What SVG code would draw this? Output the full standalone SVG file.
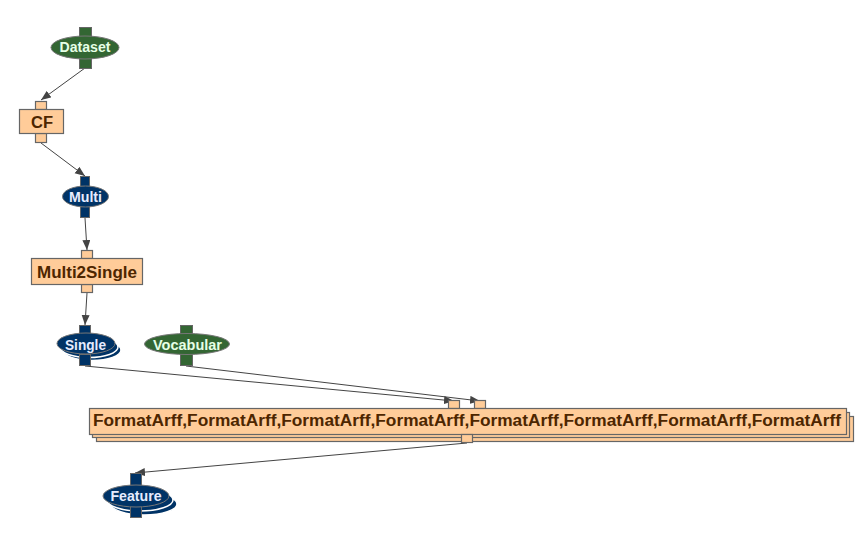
<svg xmlns="http://www.w3.org/2000/svg" width="864" height="543" viewBox="0 0 864 543">
<style>
.edge{stroke:#444;stroke-width:1;fill:none;marker-end:url(#arr)}
.op{fill:#ffcc99;stroke:#666;stroke-width:1.2}
.gp{fill:#336633;stroke:#666;stroke-width:1}
.bp{fill:#003366;stroke:#666;stroke-width:1}
.ge{fill:#336633;stroke:#777;stroke-width:1}
.be{fill:#003366;stroke:#777;stroke-width:1}
.bs{fill:#003366;stroke:#fff;stroke-width:1.5}
.ot{font-family:"Liberation Sans","Arial",sans-serif;font-weight:bold;font-size:16px;fill:#4d2600;text-anchor:middle}
.gt{font-family:"Liberation Sans","Arial",sans-serif;font-weight:bold;font-size:14px;fill:#e6ffe6;text-anchor:middle}
.bt{font-family:"Liberation Sans","Arial",sans-serif;font-weight:bold;font-size:14px;fill:#e6ecff;text-anchor:middle}
</style>
<defs>
<marker id="arr" markerUnits="userSpaceOnUse" markerWidth="11" markerHeight="9" refX="10" refY="4" orient="auto">
<path d="M0,0 L10,4 L0,8 z" fill="#444"/>
</marker>
</defs>
<rect width="864" height="543" fill="#fff"/>
<g id="edges">
<line class="edge" x1="85" y1="68" x2="41" y2="100"/>
<line class="edge" x1="41" y1="143" x2="85" y2="176"/>
<line class="edge" x1="85" y1="218" x2="87" y2="250"/>
<line class="edge" x1="87" y1="293" x2="85" y2="325"/>
<line class="edge" x1="85" y1="366" x2="454" y2="401"/>
<line class="edge" x1="186" y1="366" x2="480" y2="401"/>
<line class="edge" x1="467" y1="443" x2="135" y2="473"/>
</g>
<g id="Dataset">
<rect class="gp" x="79.5" y="27.5" width="12" height="10"/>
<rect class="gp" x="79.5" y="58.5" width="12" height="10"/>
<ellipse class="ge" cx="85" cy="47.5" rx="34" ry="11.5"/>
<text class="gt" x="85" y="52" textLength="51" lengthAdjust="spacingAndGlyphs">Dataset</text>
</g>
<g id="CF">
<rect class="op" x="35.5" y="101.5" width="11" height="8"/>
<rect class="op" x="35.5" y="133.5" width="11" height="9"/>
<rect class="op" x="19.5" y="109.5" width="44" height="24"/>
<text class="ot" x="42" y="128" textLength="22" lengthAdjust="spacingAndGlyphs">CF</text>
</g>
<g id="Multi">
<rect class="bp" x="80.5" y="176.5" width="9" height="10"/>
<rect class="bp" x="80.5" y="206.5" width="9" height="11"/>
<ellipse class="be" cx="85.5" cy="196.5" rx="23" ry="10.5"/>
<text class="bt" x="85.5" y="201.5" textLength="33" lengthAdjust="spacingAndGlyphs">Multi</text>
</g>
<g id="Multi2Single">
<rect class="op" x="81.5" y="250.5" width="11" height="8"/>
<rect class="op" x="81.5" y="284.5" width="11" height="8"/>
<rect class="op" x="31.5" y="258.5" width="111" height="26"/>
<text class="ot" x="87" y="277.5" textLength="100" lengthAdjust="spacingAndGlyphs">Multi2Single</text>
</g>
<g id="Single">
<ellipse class="bs" cx="92" cy="350" rx="29" ry="10.5"/>
<ellipse class="bs" cx="89" cy="347" rx="29" ry="10.5"/>
<rect class="bp" x="79.5" y="325.5" width="11" height="9"/>
<rect class="bp" x="79.5" y="354.5" width="11" height="11"/>
<ellipse class="be" cx="86" cy="343.5" rx="29" ry="10.5"/>
<text class="bt" x="85.5" y="349.5" textLength="41" lengthAdjust="spacingAndGlyphs">Single</text>
</g>
<g id="Vocabular">
<rect class="gp" x="180.5" y="325.5" width="12" height="9"/>
<rect class="gp" x="180.5" y="353.5" width="12" height="12"/>
<ellipse class="ge" cx="187" cy="344" rx="42.5" ry="10.5"/>
<text class="gt" x="187.5" y="349.5" textLength="69" lengthAdjust="spacingAndGlyphs">Vocabular</text>
</g>
<g id="FormatArff">
<rect class="op" x="96.5" y="416.5" width="757" height="25"/>
<rect class="op" x="92.5" y="412.5" width="757" height="25"/>
<rect class="op" x="448.5" y="400.5" width="11" height="8"/>
<rect class="op" x="474.5" y="400.5" width="11" height="8"/>
<rect class="op" x="89.5" y="408.5" width="757" height="26"/>
<rect class="op" x="461.5" y="434.5" width="11" height="8"/>
<text class="ot" x="467" y="426" textLength="748" lengthAdjust="spacingAndGlyphs">FormatArff,FormatArff,FormatArff,FormatArff,FormatArff,FormatArff,FormatArff,FormatArff</text>
</g>
<g id="Feature">
<ellipse class="bs" cx="144" cy="504" rx="33" ry="11"/>
<ellipse class="bs" cx="140" cy="500" rx="33" ry="11"/>
<rect class="bp" x="130.5" y="473.5" width="11" height="12"/>
<rect class="bp" x="130.5" y="506.5" width="11" height="11"/>
<ellipse class="be" cx="136" cy="496" rx="33" ry="11"/>
<text class="bt" x="136" y="500.5" textLength="51" lengthAdjust="spacingAndGlyphs">Feature</text>
</g>
</svg>
